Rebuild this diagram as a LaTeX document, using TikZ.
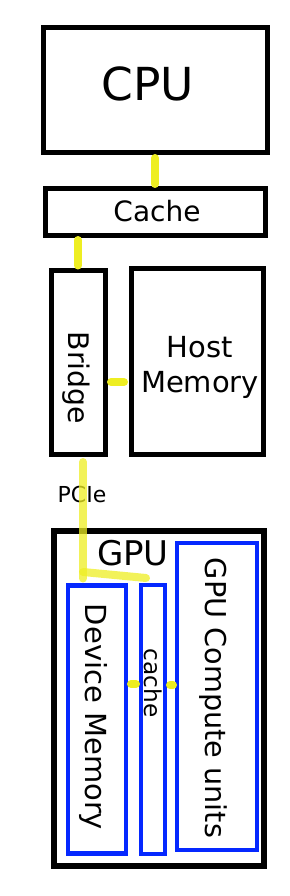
\documentclass[tikz,border=0pt]{standalone}
\usepackage{fontspec}
\setmainfont{DejaVu Sans}
\usepackage{xcolor}
\usepackage{tikz}
\usetikzlibrary{positioning}
\definecolor{busyellow}{RGB}{238,238,34}
\definecolor{gpublue}{RGB}{5,40,255}

\begin{document}
\begin{tikzpicture}[x=1pt, y=-1pt,
  unit/.style={draw, line width=5pt, inner sep=0pt, outer sep=0pt},
  gpuunit/.style={unit, draw=gpublue, line width=4.5pt},
  lbl/.style={inner sep=0pt, align=center},
  link/.style={draw=busyellow, line width=8pt, line cap=round},
  pcie/.style={link, draw opacity=0.75}
]
\useasboundingbox (0,0) rectangle (289,896);

\node[unit, minimum width=224pt, minimum height=125pt] (cpu) at (155,90.5) {};
\node[unit, minimum width=220pt, minimum height=46pt] (cache) at (155,212) {};
\node[unit, minimum width=54pt, minimum height=184pt] (bridge) at (78,362) {};
\node[unit, minimum width=132pt, minimum height=186pt] (host) at (197,361) {};
\node[unit, line width=6pt, minimum width=210pt, minimum height=335pt] (gpu) at (159,698.5) {};
\node[gpuunit, minimum width=80pt, minimum height=307pt] (compute) at (217,696.5) {};
\node[gpuunit, minimum width=58pt, minimum height=268pt] (devmem) at (97,719.5) {};
\node[gpuunit, minimum width=24pt, minimum height=269pt] (gcache) at (153,719.5) {};

\node[lbl, font=\fontsize{45.5}{45.5}\selectfont] (cputext) at (148,84) {CPU};
\node[lbl, font=\fontsize{28}{28}\selectfont] (cachetext) at (157,211) {Cache};
\node[lbl, rotate=-90, font=\fontsize{28.3}{28.3}\selectfont] (bridgetext) at (76,378) {Bridge};
\node[lbl, font=\fontsize{29}{35}\selectfont] (hosttext) at (200,367) {Host\\Memory};
\node[lbl, font=\fontsize{22}{22}\selectfont] (pcietext) at (82,494) {PCIe};
\node[lbl, font=\fontsize{34}{34}\selectfont] (gputext) at (133,553.5) {GPU};
\node[lbl, rotate=-90, font=\fontsize{28.7}{28.7}\selectfont] (computetext) at (213,698) {GPU Compute units};
\node[lbl, rotate=-90, font=\fontsize{29}{29}\selectfont] (devmemtext) at (93,717) {Device Memory};
\node[lbl, rotate=-90, font=\fontsize{23.2}{23.2}\selectfont] (gcachetext) at (153.5,683) {cache};

\coordinate (fork) at (83,572);

\draw[link, shorten <=5pt, shorten >=5pt] (cpu.south) -- (cache.north);
\draw[link, shorten <=5pt, shorten >=4.5pt] (cache.south -| bridge.north) -- (bridge.north);
\draw[link, shorten <=6pt, shorten >=7pt] ([yshift=-20pt]bridge.east) -- ([yshift=-20pt]bridge.east -| host.west);
\draw[pcie, shorten <=8pt, shorten >=7pt] ([xshift=5pt]bridge.south) -- (fork |- devmem.north);
\draw[pcie] (fork) -- ([xshift=-7pt, yshift=7pt]gcache.north);
\draw[link, shorten <=5pt, shorten >=5pt] ([yshift=35.5pt]devmem.east) -- ([yshift=35.5pt]devmem.east -| gcache.west);
\draw[link, shorten <=5pt, shorten >=4pt] ([yshift=34.5pt]gcache.east) -- ([yshift=34.5pt]gcache.east -| compute.west);
\end{tikzpicture}
\end{document}
